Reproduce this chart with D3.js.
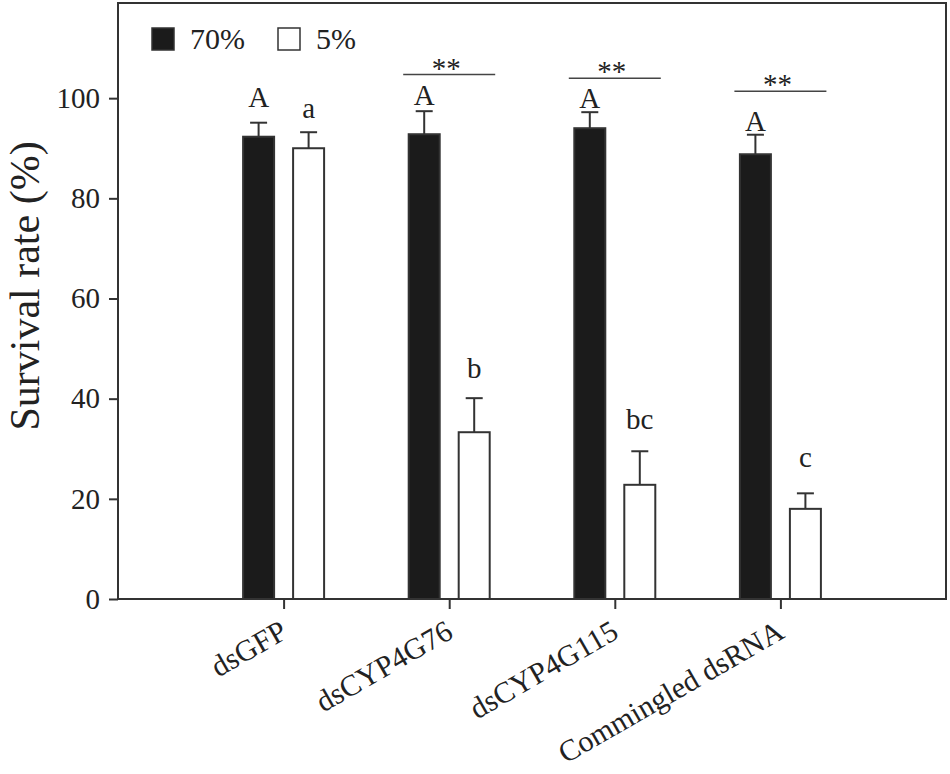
<!DOCTYPE html>
<html lang="en">
  <head>
    <meta charset="UTF-8" />
    <title>Survival rate</title>
    <style>
      body {
        margin: 0;
        background: #fff;
      }
      text {
        font-family: "Liberation Serif", "Times New Roman", serif;
        fill: #222;
      }
    </style>
  </head>
  <body>
    <svg id="chart" width="950" height="774"></svg>
    <script src="https://cdn.jsdelivr.net/npm/d3@7"></script>
    <script>
      // data
      let groups = ["dsGFP", "dsCYP4G76", "dsCYP4G115", "Commingled dsRNA"];
      let series = ["70%", "5%"];
      let high = [92.3, 92.8, 94.0, 88.8];
      let highErr = [2.8, 4.6, 3.2, 3.9];
      let low = [90.0, 33.3, 22.8, 18.0];
      let lowErr = [3.2, 6.8, 6.7, 3.1];
      let highLetters = ["A", "A", "A", "A"];
      let highLetterY = [98.2, 98.6, 98.0, 93.5];
      let lowLetters = ["a", "b", "bc", "c"];
      let lowLetterY = [96.0, 44.1, 33.9, 26.3];
      let signif = ["", "**", "**", "**"];
      let signifY = [0, 104.7, 104.0, 101.4];
      let yTicks = [0, 20, 40, 60, 80, 100];

      let svg = d3.select("#chart");
      let mLeft = 118,
        mRight = 946,
        mTop = 3,
        mBottom = 599;

      let x = d3.scalePoint().domain(groups).range([mLeft, mRight]).padding(1);
      let inner = d3
        .scaleBand()
        .domain(series)
        .range([-40.5, 40.5])
        .paddingInner(0.38);
      let y = d3.scaleLinear().domain([0, 119]).range([mBottom, mTop]);

      let rows = groups.map((g, i) => ({
        group: g,
        bars: [
          { s: "70%", v: high[i], e: highErr[i], lab: highLetters[i], ly: highLetterY[i] },
          { s: "5%", v: low[i], e: lowErr[i], lab: lowLetters[i], ly: lowLetterY[i] },
        ],
        sig: signif[i],
        sy: signifY[i],
      }));

      // frame
      svg
        .append("rect")
        .attr("x", mLeft)
        .attr("y", mTop)
        .attr("width", mRight - mLeft)
        .attr("height", mBottom - mTop)
        .attr("fill", "none")
        .attr("stroke", "#333")
        .attr("stroke-width", 2);

      // axes
      let yAxis = d3.axisLeft(y).tickValues(yTicks).tickSize(9).tickPadding(9);
      svg
        .append("g")
        .attr("transform", `translate(${mLeft},0)`)
        .call(yAxis)
        .attr("font-family", null)
        .call((g) => g.select(".domain").remove())
        .call((g) => g.selectAll("line").attr("stroke", "#333").attr("stroke-width", 2))
        .call((g) =>
          g
            .selectAll("text")
            .style("font-size", "29px")
            .attr("fill", "#222")
        );

      let xAxis = d3.axisBottom(x).tickSize(10).tickPadding(0);
      svg
        .append("g")
        .attr("transform", `translate(0,${mBottom})`)
        .call(xAxis)
        .attr("font-family", null)
        .call((g) => g.select(".domain").remove())
        .call((g) => g.selectAll("line").attr("stroke", "#333").attr("stroke-width", 2))
        .call((g) =>
          g
            .selectAll("text")
            .style("font-size", "30px")
            .attr("fill", "#222")
            .attr("text-anchor", "end")
            .attr("dy", 0)
            .attr("y", 0)
            .attr("transform", "translate(5,38) rotate(-30)")
        );

      // y title
      svg
        .append("text")
        .attr("transform", `translate(39,${(mTop + mBottom) / 2 - 15}) rotate(-90)`)
        .attr("text-anchor", "middle")
        .style("font-size", "42px")
        .text("Survival rate (%)");

      // bars
      let grp = svg
        .selectAll(".grp")
        .data(rows)
        .join("g")
        .attr("class", "grp")
        .attr("transform", (d) => `translate(${x(d.group)},0)`);

      let bar = grp
        .selectAll(".bar")
        .data((d) => d.bars)
        .join("g")
        .attr("class", "bar");

      bar
        .append("line")
        .attr("x1", (d) => inner(d.s) + inner.bandwidth() / 2)
        .attr("x2", (d) => inner(d.s) + inner.bandwidth() / 2)
        .attr("y1", (d) => y(d.v))
        .attr("y2", (d) => y(d.v + d.e))
        .attr("stroke", "#333")
        .attr("stroke-width", 2);

      bar
        .append("line")
        .attr("x1", (d) => inner(d.s) + inner.bandwidth() / 2 - 8.5)
        .attr("x2", (d) => inner(d.s) + inner.bandwidth() / 2 + 8.5)
        .attr("y1", (d) => y(d.v + d.e))
        .attr("y2", (d) => y(d.v + d.e))
        .attr("stroke", "#333")
        .attr("stroke-width", 2);

      bar
        .append("rect")
        .attr("x", (d) => inner(d.s))
        .attr("width", inner.bandwidth())
        .attr("y", (d) => y(d.v))
        .attr("height", (d) => y(0) - y(d.v))
        .attr("fill", (d) => (d.s === "70%" ? "#1b1b1b" : "#fff"))
        .attr("stroke", "#333")
        .attr("stroke-width", 2);

      bar
        .append("text")
        .attr("x", (d) => inner(d.s) + inner.bandwidth() / 2)
        .attr("y", (d) => y(d.ly))
        .attr("text-anchor", "middle")
        .style("font-size", "29px")
        .text((d) => d.lab);

      // significance
      let sig = grp.filter((d) => d.sig !== "");
      sig
        .append("line")
        .attr("x1", -46)
        .attr("x2", 46)
        .attr("y1", (d) => y(d.sy))
        .attr("y2", (d) => y(d.sy))
        .attr("stroke", "#444")
        .attr("stroke-width", 1.5);
      sig
        .append("text")
        .attr("x", -3)
        .attr("y", (d) => y(d.sy) + 3)
        .attr("text-anchor", "middle")
        .style("font-size", "29px")
        .text((d) => d.sig);

      // legend
      let legend = svg
        .selectAll(".leg")
        .data(series)
        .join("g")
        .attr("class", "leg")
        .attr("transform", (d, i) => `translate(${152 + i * 126},28)`);
      legend
        .append("rect")
        .attr("width", 22)
        .attr("height", 22)
        .attr("fill", (d) => (d === "70%" ? "#1b1b1b" : "#fff"))
        .attr("stroke", "#333")
        .attr("stroke-width", 1.5);
      legend
        .append("text")
        .attr("x", 38)
        .attr("y", 21)
        .style("font-size", "30px")
        .text((d) => d);
    </script>
  </body>
</html>
